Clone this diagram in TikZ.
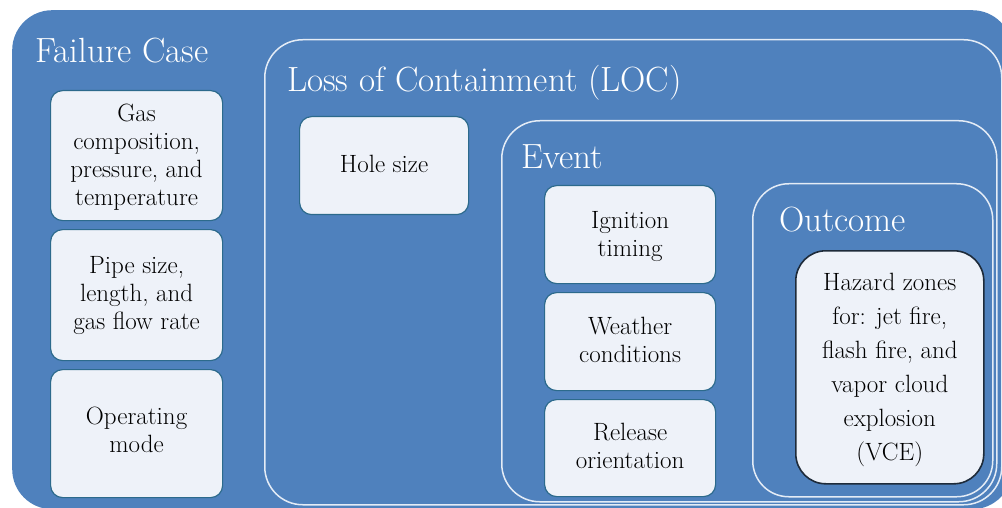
\documentclass[tikz,border=0pt]{standalone}
\usepackage{tikz}
\definecolor{bgblue}{HTML}{4F81BD}
\definecolor{boxfill}{HTML}{EEF2F9}
\definecolor{boxline}{HTML}{2C6A8C}
\definecolor{hazline}{HTML}{1E2B3A}
\definecolor{frameline}{HTML}{E4ECF6}
\tikzset{
  outerbox/.style={fill=bgblue, draw=none, rounded corners=40pt, inner sep=0pt},
  framebox/.style={draw=frameline, line width=1.5pt, rounded corners=38pt, inner sep=0pt},
  itembox/.style={fill=boxfill, draw=boxline, line width=1.2pt, rounded corners=12pt, inner sep=0pt, anchor=north west},
  hazbox/.style={fill=boxfill, draw=hazline, line width=1.6pt, rounded corners=30pt, inner sep=0pt, anchor=north west},
  title/.style={text=white, font=\fontsize{35}{40}\selectfont, anchor=base west, inner sep=0pt},
  itemtext/.style={text=black, font=\fontsize{25}{28}\selectfont, align=center, inner sep=0pt},
  haztext/.style={text=black, font=\fontsize{25}{34}\selectfont, align=center, inner sep=0pt}
}
\begin{document}
\begin{tikzpicture}[x=1pt,y=-1pt]
\useasboundingbox (0,0) rectangle (1002,508);
\clip (0,0) rectangle (1002,508);
% containers
\node[outerbox, anchor=north west, minimum width=1000pt, minimum height=499pt] (fc) at (12,10) {};
\node[framebox, anchor=north west, minimum width=737pt, minimum height=465pt] (loc) at (264,39) {};
\node[framebox, anchor=north west, minimum width=495pt, minimum height=381pt] (ev) at (501,120) {};
\node[framebox, anchor=north west, minimum width=240pt, minimum height=313pt, rounded corners=36pt] (oc) at (752,183) {};
% titles
\node[title] (tfc) at (35,63) {Failure Case};
\node[title] (tloc) at (287,92) {Loss of Containment (LOC)};
\node[title] (tev) at (521,169) {Event};
\node[title] (toc) at (779,232) {Outcome};
% failure case items
\node[itembox, minimum width=172pt, minimum height=130pt] (f1) at (50,90) {};
\node[itemtext] at ([yshift=-2pt]f1.center) {Gas\\composition,\\pressure, and\\temperature};
\node[itembox, minimum width=172pt, minimum height=131pt] (f2) at (50,229) {};
\node[itemtext] at (f2.center) {Pipe size,\\length, and\\gas flow rate};
\node[itembox, minimum width=172pt, minimum height=128pt] (f3) at (50,369) {};
\node[itemtext] at ([yshift=4pt]f3.center) {Operating\\mode};
% LOC item
\node[itembox, minimum width=169pt, minimum height=98pt] (h1) at (299,116) {};
\node[itemtext] at ([yshift=2pt]h1.center) {Hole size};
% event items
\node[itembox, minimum width=171pt, minimum height=98pt] (e1) at (544,185) {};
\node[itemtext] at ([yshift=-2pt]e1.center) {Ignition\\timing};
\node[itembox, minimum width=171pt, minimum height=98pt] (e2) at (544,292) {};
\node[itemtext] at ([yshift=2pt]e2.center) {Weather\\conditions};
\node[itembox, minimum width=171pt, minimum height=97pt] (e3) at (544,399) {};
\node[itemtext] at ([yshift=2pt]e3.center) {Release\\orientation};
% outcome item
\node[hazbox, minimum width=188pt, minimum height=233pt] (o1) at (795,250) {};
\node[haztext] at ([yshift=-3pt]o1.center) {Hazard zones\\for: jet fire,\\flash fire, and\\vapor cloud\\explosion\\(VCE)};
\end{tikzpicture}
\end{document}
